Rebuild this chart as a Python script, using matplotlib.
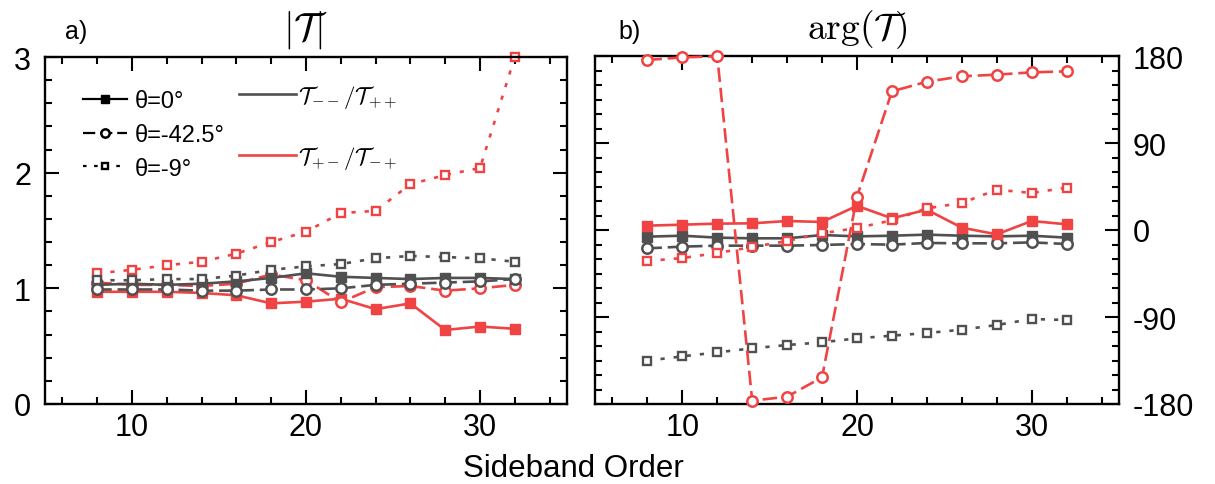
import matplotlib
matplotlib.use("Agg")
import matplotlib.pyplot as plt
from matplotlib.ticker import MultipleLocator
from matplotlib.lines import Line2D

plt.rcParams['font.family'] = ['Liberation Sans', 'DejaVu Sans']
plt.rcParams['mathtext.fontset'] = 'cm'
plt.rcParams['axes.unicode_minus'] = False

# ---------------- data ----------------
orders = [8, 10, 12, 14, 16, 18, 20, 22, 24, 26, 28, 30, 32]

# |T|  (mm = T--/T++ gray, pm = T+-/T-+ red)
mag_mm_0 = [1.03, 1.04, 1.03, 1.04, 1.06, 1.09, 1.13, 1.10, 1.09, 1.08, 1.09, 1.09, 1.08]
mag_mm_425 = [0.99, 0.99, 0.99, 0.98, 0.98, 0.99, 0.99, 1.00, 1.03, 1.04, 1.05, 1.06, 1.08]
mag_mm_9 = [1.07, 1.07, 1.08, 1.08, 1.11, 1.16, 1.19, 1.21, 1.26, 1.28, 1.27, 1.26, 1.23]
mag_pm_0 = [0.97, 0.97, 0.97, 0.96, 0.94, 0.87, 0.885, 0.91, 0.82, 0.87, 0.64, 0.67, 0.65]
mag_pm_425 = [1.05, 1.03, 1.03, 1.02, 1.04, 1.12, 1.07, 0.88, 1.01, 1.02, 0.98, 1.00, 1.03]
mag_pm_9 = [1.13, 1.16, 1.20, 1.23, 1.30, 1.40, 1.49, 1.65, 1.67, 1.90, 1.98, 2.04, 3.00]

# arg(T) in degrees
ph_mm_0 = [-6.9, -5.9, -7.9, -8.6, -8.6, -5.2, -6.6, -5.9, -4.8, -5.9, -6.6, -5.9, -7.9]
ph_mm_425 = [-19.0, -17.2, -16.2, -16.2, -16.2, -15.5, -14.5, -15.2, -13.4, -13.8, -13.8, -12.8, -14.5]
ph_mm_9 = [-135.2, -130.7, -126.6, -122.4, -119.0, -116.2, -112.1, -109.3, -106.6, -103.1, -98.3, -92.1, -93.1]
ph_pm_0 = [4.5, 5.5, 6.6, 6.9, 9.3, 8.3, 25.0, 12.1, 21.0, 2.4, -4.5, 9.3, 5.9]
ph_pm_425 = [175.9, 178.6, 179.7, -176.6, -172.4, -152.4, 34.5, 143.4, 153.4, 159.0, 160.7, 163.1, 164.1]
ph_pm_9 = [-32.1, -29.0, -23.8, -17.6, -11.4, -3.4, 2.1, 10.0, 22.4, 27.9, 41.7, 38.3, 43.8]

angle_labels = ['θ=0°', 'θ=-42.5°', 'θ=-9°']
ratio_labels = [r'$\mathcal{T}_{--}/\mathcal{T}_{++}$', r'$\mathcal{T}_{+-}/\mathcal{T}_{-+}$']

GRAY = '#505050'
RED = '#F04343'
LW = 1.9

def styles(color):
    return [
        dict(ls='-', marker='s', ms=7, mfc=color, mec=color),
        dict(ls=(0, (5.5, 2.2)), marker='o', ms=7.5, mfc='white', mec=color, mew=1.8),
        dict(ls=(0, (1.6, 3.4)), marker='s', ms=6, mfc='white', mec=color, mew=1.7),
    ]

W, H = 1215, 485
fig = plt.figure(figsize=(W / 100, H / 100), dpi=100)
ax1 = fig.add_axes([45 / W, 80 / H, 522 / W, 347 / H])
ax2 = fig.add_axes([595 / W, 80 / H, 524 / W, 348 / H])

for ys, st in zip([mag_mm_0, mag_mm_425, mag_mm_9], styles(GRAY)):
    ax1.plot(orders, ys, color=GRAY, lw=LW, clip_on=False, zorder=3, **st)
for ys, st in zip([mag_pm_0, mag_pm_425, mag_pm_9], styles(RED)):
    ax1.plot(orders, ys, color=RED, lw=LW, clip_on=False, zorder=2, **st)

for ys, st in zip([ph_mm_0, ph_mm_425, ph_mm_9], styles(GRAY)):
    ax2.plot(orders, ys, color=GRAY, lw=LW, clip_on=False, zorder=2, **st)
for ys, st in zip([ph_pm_0, ph_pm_425, ph_pm_9], styles(RED)):
    ax2.plot(orders, ys, color=RED, lw=LW, clip_on=False, zorder=3, **st)

for ax in (ax1, ax2):
    ax.set_xlim(5, 35)
    ax.xaxis.set_major_locator(MultipleLocator(10))
    ax.xaxis.set_minor_locator(MultipleLocator(2))
    for s in ax.spines.values():
        s.set_linewidth(1.7)
    ax.tick_params(which='both', direction='in', top=True, right=True, left=True,
                   bottom=True, width=1.5, labelsize=22)
    ax.tick_params(which='major', length=10, pad=6)
    ax.tick_params(which='minor', length=5)
    ax.tick_params(axis='y', pad=10)

ax1.set_ylim(0, 3)
ax1.yaxis.set_major_locator(MultipleLocator(1))
ax1.yaxis.set_minor_locator(MultipleLocator(0.2))

ax2.set_ylim(-180, 180)
ax2.yaxis.set_major_locator(MultipleLocator(90))
ax2.yaxis.set_minor_locator(MultipleLocator(15))
ax2.tick_params(axis='y', labelleft=False, labelright=True)

# legends
h_angles = []
for st in styles('black'):
    st = dict(st)
    st['ms'] = st['ms'] * 0.8
    h_angles.append(Line2D([], [], color='black', lw=1.6, **st))
leg1 = ax1.legend(h_angles, angle_labels, loc='upper left', bbox_to_anchor=(0.072, 0.905),
                  frameon=False, fontsize=17, handlelength=1.9, handletextpad=0.3,
                  labelspacing=0.5, borderpad=0, borderaxespad=0)
ax1.add_artist(leg1)
h_ratio = [Line2D([], [], color=GRAY, lw=1.9), Line2D([], [], color=RED, lw=1.9)]
ax1.legend(h_ratio, ratio_labels, loc='upper left', bbox_to_anchor=(0.372, 0.925),
           frameon=False, fontsize=16.5, handlelength=2.5, handletextpad=0.05,
           labelspacing=1.5, borderpad=0, borderaxespad=0)

fig.text(65 / W, 1 - 32 / H, 'a)', fontsize=18, ha='left', va='center')
fig.text(618 / W, 1 - 32 / H, 'b)', fontsize=18, ha='left', va='center')
fig.text(306 / W, 1 - 30 / H, r'$|\mathcal{T}|$', fontsize=28, ha='center', va='center')
fig.text(857 / W, 1 - 30 / H, r'$\arg(\mathcal{T})$', fontsize=27, ha='center', va='center')
fig.text(573 / W, 1 - 477 / H, 'Sideband Order', fontsize=22.5, ha='center', va='baseline')

fig.savefig('out.png', dpi=100)
